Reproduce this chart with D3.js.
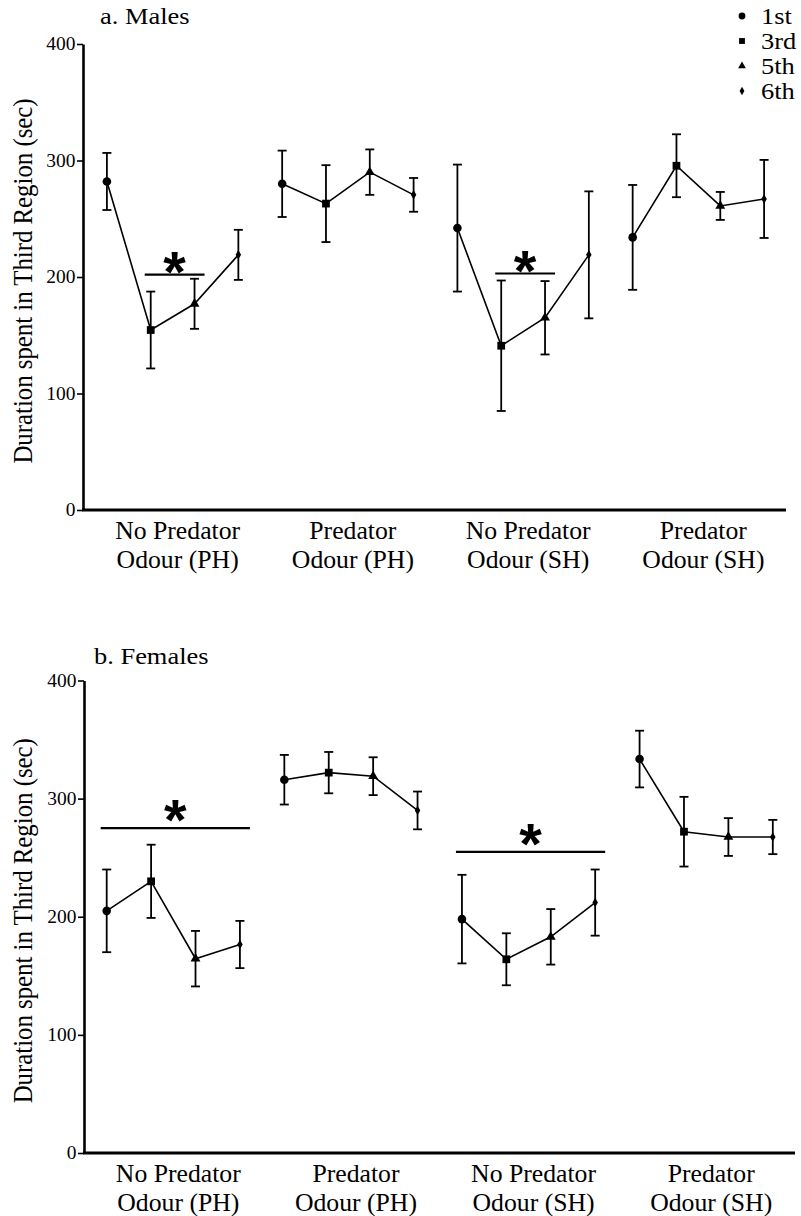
<!DOCTYPE html>
<html>
<head>
<meta charset="utf-8">
<script src="https://cdn.jsdelivr.net/npm/d3@7"></script>
<style>
  html, body { margin: 0; padding: 0; background: #fff; }
  svg { display: block; }
  text { font-family: "Liberation Serif", "Times New Roman", serif; fill: #000; }
</style>
</head>
<body>
<svg id="chart" width="801" height="1216"></svg>
<script>
// Groups on the x axis (two text lines each) and the sessions plotted in every group
const groupLine1 = ["No Predator", "Predator", "No Predator", "Predator"];
const groupLine2 = ["Odour (PH)", "Odour (PH)", "Odour (SH)", "Odour (SH)"];
const sessions = ["1st", "3rd", "5th", "6th"];
const yTicks = [0, 100, 200, 300, 400];

// Mean duration (sec) per group x session, in group order, with error (±)
const malesMean = [282, 154.5, 177, 219, 280, 263, 290, 270.5, 242, 141, 165, 219, 234, 295.5, 261, 267];
const malesErr  = [24.5, 33, 21.5, 21.5, 28.5, 33, 19.5, 14.5, 54.5, 56, 31.5, 54.5, 45, 27, 12, 33.5];
const femalesMean = [205, 230, 164.5, 176.5, 316, 322, 319, 290, 198, 164, 183, 212, 333.5, 272, 267.5, 267.5];
const femalesErr  = [35, 31, 23.5, 20, 21, 17.5, 16, 16, 37.5, 22, 23.5, 28, 24, 29.5, 16, 14.5];

// Significance brackets: first/last point index and height (sec)
const malesSig = [[1, 2, 202], [9, 10, 203]];
const femalesSig = [[0, 3, 275], [8, 11, 255]];

const svg = d3.select("#chart");
const symbolTypes = [d3.symbolCircle, d3.symbolSquare, d3.symbolTriangle, d3.symbolDiamond];
const symbolSizes = [58, 60, 42, 26];

// Text with a slight horizontal stretch
function stretchedText(g, x, y, str, size, sx, anchor) {
  return g.append("text")
    .attr("transform", `translate(${x},${y}) scale(${sx},1)`)
    .attr("text-anchor", anchor || "start")
    .style("font-size", size + "px")
    .text(str);
}

function panel(cfg) {
  const g = svg.append("g");
  const n = groupLine1.length * sessions.length;
  const x = d3.scalePoint(d3.range(n), cfg.xRange).padding(0.5);
  const y = d3.scaleLinear([0, 400], cfg.yRange);
  const x0 = cfg.axisX;

  // y axis
  const ya = g.append("g")
    .attr("transform", `translate(${x0},0)`)
    .call(d3.axisLeft(y).tickValues(yTicks).tickSize(6).tickSizeOuter(0).tickPadding(1));
  ya.select(".domain").attr("stroke-width", 2.6);
  ya.selectAll(".tick line").attr("stroke-width", 1.6);
  ya.selectAll(".tick text")
    .attr("font-family", null)
    .style("font-size", "18px")
    .attr("transform", "scale(1.08,1)");

  // x axis baseline
  g.append("line")
    .attr("x1", x0 - 1).attr("x2", x.range()[1])
    .attr("y1", y(0)).attr("y2", y(0))
    .attr("stroke", "#000").attr("stroke-width", 2.8);

  // group labels
  groupLine1.forEach((t, i) => {
    const cx = (x(i * 4 + 1) + x(i * 4 + 2)) / 2 + 5;
    stretchedText(g, cx, y(0) + 29, t, 24.5, 1.05, "middle");
    stretchedText(g, cx, y(0) + 58, groupLine2[i], 24.5, 1.05, "middle");
  });

  // y label
  g.append("text")
    .attr("transform", `translate(32,${(y(0) + y(400)) / 2 + 4}) scale(1.08,1) rotate(-90)`)
    .attr("text-anchor", "middle")
    .style("font-size", "24.8px")
    .text("Duration spent in Third Region (sec)");

  // title
  stretchedText(g, cfg.titleX, cfg.titleY, cfg.title, 23, 1.15);

  const pts = cfg.mean.map((m, i) => ({ i, m, e: cfg.err[i], grp: Math.floor(i / 4), s: i % 4 }));

  // error bars
  const eb = g.append("g").attr("stroke", "#000").attr("stroke-width", 1.8).attr("fill", "none");
  pts.forEach(p => {
    const px = x(p.i), top = y(p.m + p.e), bot = y(p.m - p.e);
    eb.append("line").attr("x1", px).attr("x2", px).attr("y1", top).attr("y2", bot);
    eb.append("line").attr("x1", px - 4.5).attr("x2", px + 4.5).attr("y1", top).attr("y2", top);
    eb.append("line").attr("x1", px - 4.5).attr("x2", px + 4.5).attr("y1", bot).attr("y2", bot);
  });

  // connecting lines, one per group
  const line = d3.line().x(p => x(p.i)).y(p => y(p.m));
  d3.range(groupLine1.length).forEach(gi => {
    g.append("path")
      .datum(pts.filter(p => p.grp === gi))
      .attr("d", line)
      .attr("fill", "none").attr("stroke", "#000").attr("stroke-width", 1.6);
  });

  // markers
  g.selectAll("path.mk").data(pts).join("path")
    .attr("class", "mk")
    .attr("transform", p => `translate(${x(p.i)},${y(p.m)})`)
    .attr("d", p => d3.symbol(symbolTypes[p.s], symbolSizes[p.s])())
    .attr("fill", "#000");

  // significance brackets
  cfg.sig.forEach(([a, b, v]) => {
    const xa = x(a) - 6, xb = x(b) + 10;
    g.append("line")
      .attr("x1", xa).attr("x2", xb).attr("y1", y(v)).attr("y2", y(v))
      .attr("stroke", "#000").attr("stroke-width", 2.2);
    g.append("text")
      .attr("x", (xa + xb) / 2).attr("y", y(v) + cfg.starOffset)
      .attr("text-anchor", "middle")
      .style("font-family", "'Liberation Sans', Arial, sans-serif")
      .style("font-weight", "bold")
      .style("font-size", "58px")
      .text("*");
  });
}

panel({
  title: "a. Males", titleX: 100, titleY: 24,
  axisX: 83, xRange: [85, 786], yRange: [510, 44], starOffset: 17,
  mean: malesMean, err: malesErr, sig: malesSig
});
panel({
  title: "b. Females", titleX: 94, titleY: 664,
  axisX: 84, xRange: [84.5, 795], yRange: [1153, 680.5], starOffset: 12,
  mean: femalesMean, err: femalesErr, sig: femalesSig
});

// legend
const leg = svg.append("g");
sessions.forEach((s, i) => {
  const cy = 16 + i * 25;
  leg.append("path")
    .attr("transform", `translate(742,${cy})`)
    .attr("d", d3.symbol(symbolTypes[i], [36, 34, 26, 20][i])())
    .attr("fill", "#000");
  stretchedText(leg, 761, cy + 8, s, 23, 1.15);
});
</script>
</body>
</html>
